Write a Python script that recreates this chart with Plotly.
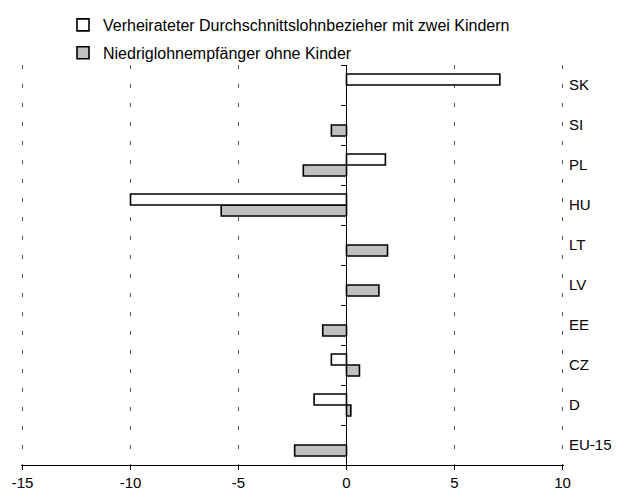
import plotly.graph_objects as go

# Data (bottom to top as drawn)
categories = ["EU-15", "D", "CZ", "EE", "LV", "LT", "HU", "PL", "SI", "SK"]
married_two_kids = [None, -1.5, -0.7, None, None, None, -10.0, 1.8, None, 7.1]
low_wage_no_kids = [-2.4, 0.2, 0.6, -1.1, 1.5, 1.9, -5.8, -2.0, -0.7, None]
series_names = ["Verheirateter Durchschnittslohnbezieher mit zwei Kindern",
                "Niedriglohnempfänger ohne Kinder"]
x_ticks = [-15, -10, -5, 0, 5, 10]

FONT = "Arial, 'Liberation Sans', sans-serif"

fig = go.Figure()
# gray first so it sits below the white bar inside each group
fig.add_trace(go.Bar(
    y=categories, x=low_wage_no_kids, orientation="h", name=series_names[1],
    marker=dict(color="#c0c0c0", line=dict(color="black", width=1.6)),
    legendrank=2, legendgroup="b", hoverinfo="x+y",
))
fig.add_trace(go.Bar(
    y=categories, x=married_two_kids, orientation="h", name=series_names[0],
    marker=dict(color="white", line=dict(color="black", width=1.6)),
    legendrank=1, legendgroup="a", hoverinfo="x+y",
))
# empty helper trace so the category-boundary axis at x=0 is drawn
fig.add_trace(go.Scatter(x=[None], y=[None], yaxis="y2", showlegend=False,
                         hoverinfo="skip", mode="markers"))

W, H = 614, 489
XR = [-15.07, 10.07]
fig.update_layout(
    width=W, height=H,
    margin=dict(l=13, r=58, t=57, b=32, autoexpand=False),
    paper_bgcolor="white", plot_bgcolor="white",
    barmode="group", bargap=0.45, bargroupgap=0,
    font=dict(family=FONT, size=15, color="black"),
    showlegend=True,
    legend=dict(
        xref="container", yref="container",
        x=55 / W, y=1 + 3 / H, xanchor="left", yanchor="top",
        traceorder="grouped", tracegroupgap=4,
        font=dict(family=FONT, size=16, color="black"),
        bgcolor="rgba(0,0,0,0)", itemwidth=30,
    ),
    xaxis=dict(
        domain=[0, 1], automargin=False,
        range=XR, tickvals=x_ticks, ticktext=[str(v) for v in x_ticks],
        showline=True, linecolor="black", linewidth=1,
        ticks="outside", ticklen=4, tickcolor="black", tickangle=0,
        showgrid=True, gridcolor="#555555", gridwidth=1, griddash="4px,15px",
        zeroline=True, zerolinecolor="black", zerolinewidth=1,
        tickfont=dict(family=FONT, size=15), fixedrange=True,
    ),
    yaxis=dict(
        type="category", categoryorder="array", categoryarray=categories,
        range=[-0.5, 9.5], side="right", showline=False, showgrid=False,
        zeroline=False, ticks="", tickfont=dict(family=FONT, size=15),
        ticklabelstandoff=4, fixedrange=True, automargin=False,
    ),
    yaxis2=dict(
        overlaying="y", anchor="free", position=-XR[0] / (XR[1] - XR[0]), side="left",
        autoshift=False, automargin=False,
        range=[-0.5, 9.5], tickvals=[i + 0.5 for i in range(len(categories))],
        showticklabels=False, ticks="outside", ticklen=5, tickcolor="black",
        showline=False, showgrid=False, zeroline=False, fixedrange=True,
    ),
)

fig.write_html("out.html")
